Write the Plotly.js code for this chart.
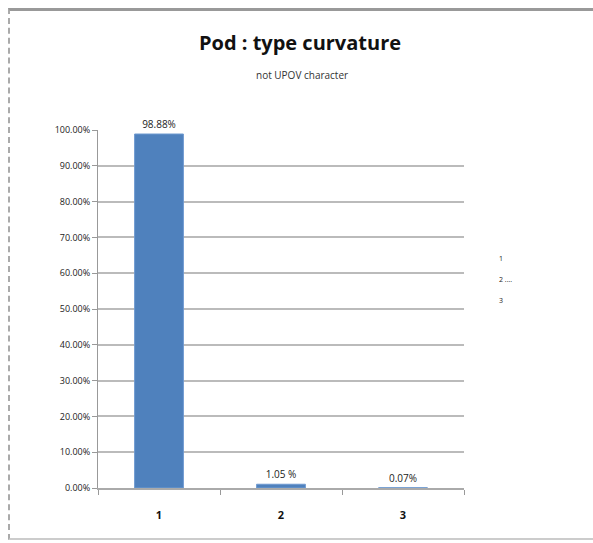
<!DOCTYPE html>
<html>
<head>
<meta charset="utf-8">
<script src="https://cdn.plot.ly/plotly-3.0.1.min.js"></script>
<style>
  body { margin: 0; background: white; }
  #frame {
    position: absolute; left: 8px; top: 8px; width: 585px; height: 532px;
    border-top: 3px solid #999; border-left: 2px dashed #aaa; border-bottom: 2px solid #ccc;
    box-sizing: border-box;
  }
  #graph { position: absolute; left: 0; top: 0; width: 593px; height: 543px; }
</style>
</head>
<body>
<div id="frame"></div>
<div id="graph"></div>
<script>
// categories and shares (percent)
const categorias = ['1', '2', '3']
const valores = [98.88, 1.05, 0.07]
const rotulos = ['98.88%', '1.05 %', '0.07%']
const ticksY = [0, 10, 20, 30, 40, 50, 60, 70, 80, 90, 100]
const legenda = ['1', '2 ....', '3']

const fonte = 'Open Sans, Liberation Sans, sans-serif'

const trace = {
    x: categorias,
    y: valores,
    type: 'bar',
    width: 0.4,
    text: rotulos,
    textposition: 'outside',
    cliponaxis: false,
    textfont: { family: fonte, size: 10, color: '#222' },
    marker: { color: '#4f81bd', line: { color: '#6f9ad0', width: 1 } },
    hoverinfo: 'skip',
};

const anotacoes = [
    {
        text: 'not UPOV character',
        xref: 'paper', yref: 'paper',
        x: (302 - 98) / 366, y: (488 - 75) / 358,
        yanchor: 'middle',
        showarrow: false,
        font: { family: fonte, size: 10, color: '#333' },
    },
];

legenda.forEach((t, i) => {
    anotacoes.push({
        text: t,
        xref: 'paper', yref: 'paper',
        x: (497 - 98) / 366, y: (488 - (258 + i * 21)) / 358,
        xanchor: 'left', yanchor: 'middle',
        showarrow: false,
        font: { family: fonte, size: 7, color: '#222' },
    });
});

const layout = {
    width: 593,
    height: 543,
    margin: { l: 98, r: 129, t: 130, b: 55 },
    paper_bgcolor: 'rgba(0,0,0,0)',
    plot_bgcolor: 'white',
    title: {
        text: '<b>Pod : type curvature</b>',
        x: 300 / 593, xanchor: 'center',
        y: 1 - 43 / 543, yanchor: 'middle',
        font: { family: fonte, size: 20, color: '#111' },
    },
    showlegend: false,
    xaxis: {
        type: 'category',
        tickson: 'boundaries',
        ticks: 'outside',
        ticklen: 5,
        tickcolor: '#999',
        showline: true,
        linecolor: '#aaa',
        linewidth: 2,
        showgrid: false,
        ticklabelstandoff: 16,
        tickfont: { family: fonte, size: 11, color: '#111', weight: 'bold' },
    },
    yaxis: {
        range: [0, 100],
        tickvals: ticksY,
        ticktext: ticksY.map(v => v.toFixed(2) + '%'),
        ticks: 'outside',
        ticklen: 5,
        tickcolor: '#999',
        showline: true,
        linecolor: '#999',
        linewidth: 1,
        gridcolor: '#bbb',
        gridwidth: 2,
        zeroline: false,
        tickfont: { family: fonte, size: 9, color: '#222' },
    },
    annotations: anotacoes,
};

Plotly.newPlot('graph', [trace], layout, { displayModeBar: false, staticPlot: true });
</script>
</body>
</html>
